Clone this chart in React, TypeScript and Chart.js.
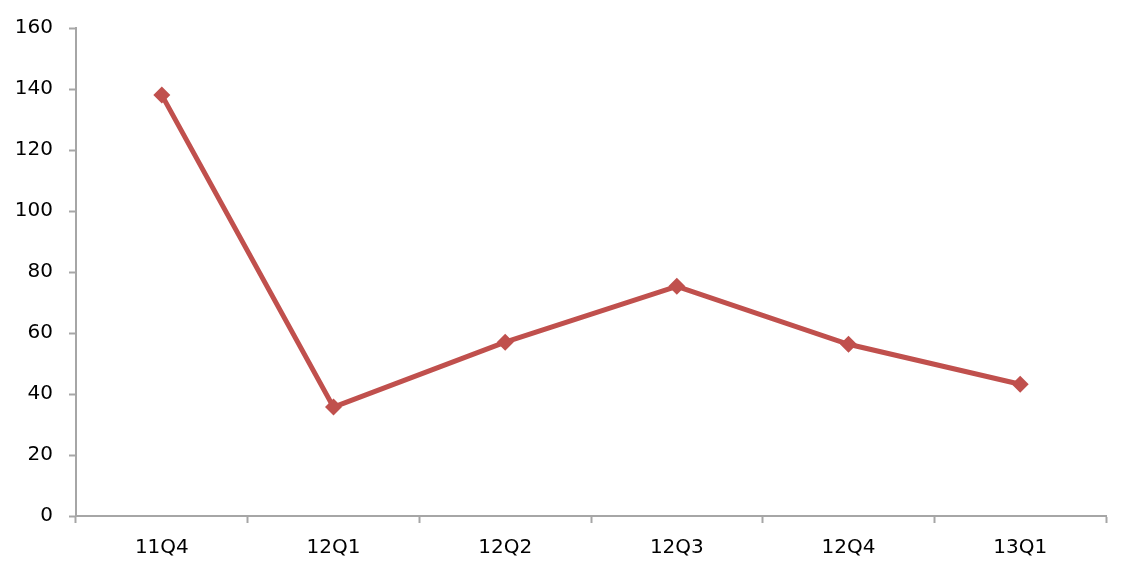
import React, { useEffect, useRef } from "react";
import { Chart, registerables } from "chart.js";

Chart.register(...registerables);

const categories = ["11Q4", "12Q1", "12Q2", "12Q3", "12Q4", "13Q1"];
const values = [138, 35.7, 57, 75.3, 56.3, 43.2];
const yMin = 0;
const yMax = 160;
const yStep = 20;

const AXIS_GREY = "#A6A6A6";
const LINE_RED = "#C0504D";
const FONT = { family: "'DejaVu Sans', 'Open Sans', sans-serif", size: 20 };

export default function App() {
  const ref = useRef<HTMLCanvasElement | null>(null);

  useEffect(() => {
    if (!ref.current) return;
    const chart = new Chart(ref.current, {
      type: "line",
      data: {
        labels: categories,
        datasets: [
          {
            data: values,
            borderColor: LINE_RED,
            backgroundColor: LINE_RED,
            borderWidth: 5,
            pointStyle: "rectRot",
            pointRadius: 8.5,
            pointBackgroundColor: LINE_RED,
            pointBorderColor: LINE_RED,
            pointBorderWidth: 0,
            tension: 0,
          },
        ],
      },
      options: {
        responsive: false,
        animation: false,
        layout: { padding: { top: 27, right: 22, left: 0, bottom: 0 } },
        plugins: { legend: { display: false }, tooltip: { enabled: false } },
        scales: {
          x: {
            type: "category",
            offset: true,
            grid: {
              offset: true,
              drawOnChartArea: false,
              drawTicks: true,
              tickLength: 7,
              tickWidth: 2,
              tickColor: AXIS_GREY,
            },
            border: { color: AXIS_GREY, width: 2 },
            ticks: { color: "#000", font: FONT, padding: 13, maxRotation: 0 },
            afterFit: (s: any) => {
              s.height = 54;
            },
          },
          y: {
            min: yMin,
            max: yMax,
            grid: {
              drawOnChartArea: false,
              drawTicks: true,
              tickLength: 7,
              tickWidth: 2,
              tickColor: AXIS_GREY,
            },
            border: { color: AXIS_GREY, width: 2 },
            ticks: { stepSize: yStep, color: "#000", font: FONT, padding: 16 },
            afterFit: (s: any) => {
              s.width = 76;
            },
          },
        },
      },
    });
    return () => chart.destroy();
  }, []);

  return (
    <div style={{ position: "fixed", left: 0, top: 0, width: 1128, height: 570, background: "#fff" }}>
      <canvas ref={ref} width={1128} height={570} style={{ display: "block" }} />
    </div>
  );
}
